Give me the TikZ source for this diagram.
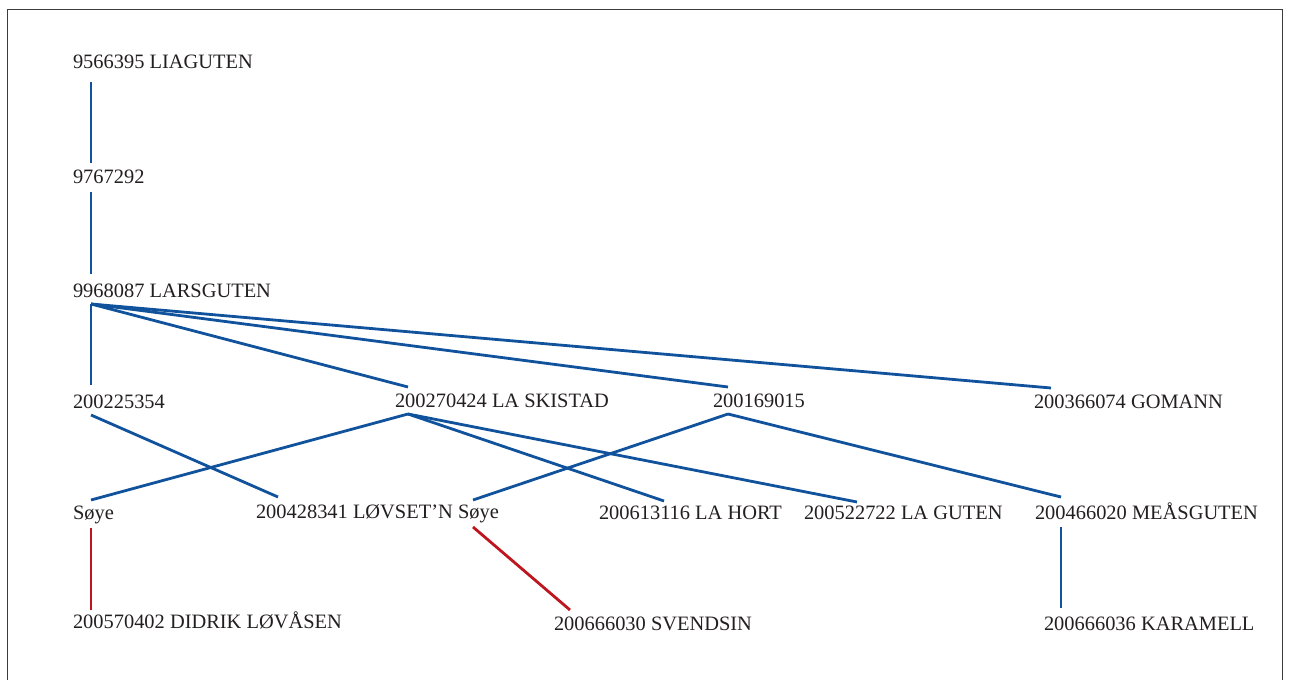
\documentclass[tikz,border=0pt]{standalone}
\usepackage{fontspec}
\setmainfont{Liberation Serif}
\definecolor{bluec}{RGB}{16,82,155}
\definecolor{redc}{RGB}{190,22,30}
\definecolor{txtc}{RGB}{35,31,32}
\definecolor{framec}{RGB}{60,60,60}
\begin{document}
\begin{tikzpicture}[x=1bp,y=-1bp,
  lbl/.style={anchor=base west, inner sep=0pt, outer sep=0pt, text=txtc, font=\fontsize{20.5}{24}\selectfont},
  bl/.style={draw=bluec, line width=2.8bp},
  rl/.style={draw=redc, line width=2.8bp}]
\useasboundingbox (0,0) rectangle (1289,680);
\draw[framec, line width=1bp] (7.5,690) -- (7.5,9.5) -- (1282.5,9.5) -- (1282.5,690);
% row 1-3
\node[lbl] (lia) at (73,69) {9566395 LIAGUTEN};
\node[lbl] (n97) at (73,184) {9767292};
\node[lbl] (lars) at (73,297) {9968087 LARSGUTEN};
% row 4
\node[lbl] (n2002) at (73,408) {200225354};
\node[lbl] (ski) at (395,407) {200270424 LA SKISTAD};
\node[lbl] (n2001) at (713,407) {200169015};
\node[lbl] (gom) at (1034,408) {200366074 GOMANN};
% row 5
\node[lbl] (soye1) at (73,519) {Søye};
\node[lbl] (lov) at (256,518) {200428341 LØVSET’N};
\node[lbl] (soye2) at (458,518) {Søye};
\node[lbl] (hort) at (599,519) {200613116 LA HORT};
\node[lbl] (guten) at (804,519) {200522722 LA GUTEN};
\node[lbl] (mea) at (1035,519) {200466020 MEÅSGUTEN};
% row 6
\node[lbl] (did) at (73,628) {200570402 DIDRIK LØVÅSEN};
\node[lbl] (sve) at (554,630) {200666030 SVENDSIN};
\node[lbl] (kar) at (1044,630) {200666036 KARAMELL};
% connectors
\draw[bl] ([shift={(18,13)}]lia.base west) -- ([shift={(18,-21)}]n97.base west);
\draw[bl] ([shift={(18,8)}]n97.base west) -- ([shift={(18,-23)}]lars.base west);
\draw[bl] ([shift={(18,7)}]lars.base west) -- ([shift={(18,-23)}]n2002.base west);
\draw[bl] ([shift={(18,7)}]lars.base west) -- ([shift={(13,-20)}]ski.base west);
\draw[bl] ([shift={(18,7)}]lars.base west) -- ([shift={(15,-20)}]n2001.base west);
\draw[bl] ([shift={(18,7)}]lars.base west) -- ([shift={(17,-20)}]gom.base west);
\draw[bl] ([shift={(18,7)}]n2002.base west) -- ([shift={(22,-21)}]lov.base west);
\draw[bl] ([shift={(13,7)}]ski.base west) -- ([shift={(18,-19)}]soye1.base west);
\draw[bl] ([shift={(13,7)}]ski.base west) -- ([shift={(65,-18)}]hort.base west);
\draw[bl] ([shift={(13,7)}]ski.base west) -- ([shift={(53,-17)}]guten.base west);
\draw[bl] ([shift={(15,7)}]n2001.base west) -- ([shift={(15,-18)}]soye2.base west);
\draw[bl] ([shift={(15,7)}]n2001.base west) -- ([shift={(26,-22)}]mea.base west);
\draw[rl] ([shift={(18,9)}]soye1.base west) -- ([shift={(18,-18)}]did.base west);
\draw[rl] ([shift={(15,9)}]soye2.base west) -- ([shift={(16,-20)}]sve.base west);
\draw[bl] ([shift={(26,8)}]mea.base west) -- ([shift={(17,-22)}]kar.base west);
\end{tikzpicture}
\end{document}
